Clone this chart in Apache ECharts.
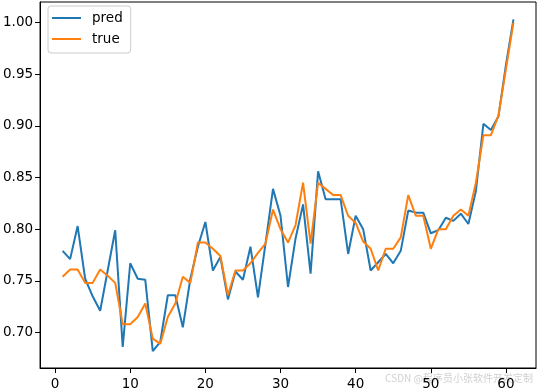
<!DOCTYPE html>
<html>
<head>
<meta charset="utf-8">
<script src="https://cdn.jsdelivr.net/npm/echarts@6/dist/echarts.min.js"></script>
<style>
html,body{margin:0;padding:0;background:#fff;}
#chart{width:538px;height:391px;}
</style>
</head>
<body>
<div id="chart"></div>
<script>
var steps = [1,2,3,4,5,6,7,8,9,10,11,12,13,14,15,16,17,18,19,20,21,22,23,24,25,26,27,28,29,30,31,32,33,34,35,36,37,38,39,40,41,42,43,44,45,46,47,48,49,50,51,52,53,54,55,56,57,58,59,60,61];
var predValues = [0.779,0.771,0.803,0.752,0.735,0.721,0.760,0.799,0.686,0.767,0.752,0.751,0.682,0.691,0.736,0.736,0.705,0.752,0.783,0.807,0.760,0.773,0.732,0.759,0.751,0.783,0.734,0.786,0.839,0.813,0.744,0.791,0.824,0.757,0.856,0.829,0.829,0.829,0.776,0.813,0.800,0.760,0.768,0.776,0.767,0.779,0.818,0.816,0.816,0.796,0.799,0.811,0.808,0.815,0.805,0.837,0.902,0.896,0.909,0.959,1.003];
var trueValues = [0.754,0.761,0.761,0.748,0.748,0.761,0.755,0.748,0.708,0.708,0.715,0.728,0.694,0.689,0.715,0.728,0.754,0.748,0.787,0.787,0.781,0.774,0.736,0.760,0.760,0.767,0.777,0.786,0.819,0.800,0.787,0.804,0.845,0.786,0.845,0.839,0.833,0.833,0.813,0.806,0.788,0.781,0.760,0.781,0.781,0.792,0.833,0.813,0.813,0.781,0.800,0.800,0.813,0.819,0.813,0.845,0.891,0.891,0.910,0.955,1.000];
var xTicks = [0,10,20,30,40,50,60];
var yTicks = [0.70,0.75,0.80,0.85,0.90,0.95,1.00];
var seriesNames = ['pred','true'];
var watermark = 'CSDN @程序员小张软件开发定制';

function pairs(vals){ return steps.map(function(s,i){ return [s, vals[i]]; }); }

var font = 'DejaVu Sans';
var chart = echarts.init(document.getElementById('chart'), null, {renderer:'canvas'});
chart.setOption({
  animation:false,
  backgroundColor:'#ffffff',
  grid:{left:40,top:2,right:2,bottom:21,show:true,borderColor:'#000',borderWidth:1,backgroundColor:'transparent'},
  xAxis:{
    type:'value', min:-2, max:64,
    axisLine:{show:true,onZero:false,lineStyle:{color:'#000',width:1}},
    axisTick:{show:true,length:5,customValues:xTicks,lineStyle:{color:'#000'}},
    axisLabel:{customValues:xTicks,margin:9,color:'#000',fontFamily:font,fontSize:13.5},
    splitLine:{show:false}
  },
  yAxis:{
    type:'value', min:0.6656, max:1.0199,
    axisLine:{show:true,onZero:false,lineStyle:{color:'#000',width:1}},
    axisTick:{show:true,length:5,customValues:yTicks,lineStyle:{color:'#000'}},
    axisLabel:{customValues:yTicks,margin:7,color:'#000',fontFamily:font,fontSize:13.5,
      formatter:function(v){return v.toFixed(2);}},
    splitLine:{show:false}
  },
  legend:{
    data:seriesNames,
    icon:'path://M0,0L29,0L29,2L0,2Z',
    orient:'vertical', left:48, top:6,
    padding:[5,8,7,4],
    itemWidth:29, itemHeight:14, itemGap:7,
    backgroundColor:'rgba(255,255,255,0.8)',
    borderColor:'#cccccc', borderWidth:1, borderRadius:3,
    textStyle:{fontFamily:font,fontSize:13.5,color:'#000',padding:[0,0,0,6]}
  },
  graphic:[{
    type:'text', right:5, top:373,
    style:{text:watermark,fontSize:10,fontFamily:'Noto Sans CJK SC',fill:'rgba(170,170,170,0.55)'}
  }],
  series:[
    {name:seriesNames[0],type:'line',data:pairs(predValues),symbol:'none',
     lineStyle:{color:'#1f77b4',width:2},itemStyle:{color:'#1f77b4'}},
    {name:seriesNames[1],type:'line',data:pairs(trueValues),symbol:'none',
     lineStyle:{color:'#ff7f0e',width:2},itemStyle:{color:'#ff7f0e'}}
  ]
});
</script>
</body>
</html>
